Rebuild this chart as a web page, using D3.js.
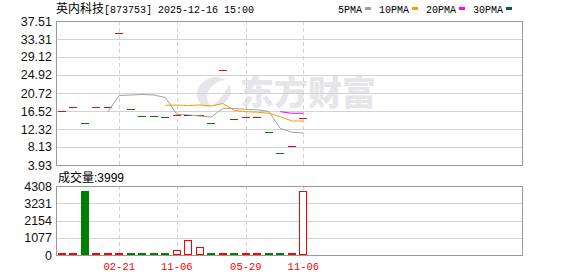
<!DOCTYPE html>
<html>
<head>
<meta charset="utf-8">
<script src="https://cdn.jsdelivr.net/npm/d3@7/dist/d3.min.js"></script>
<style>
  html, body { margin: 0; padding: 0; background: #fff; }
  svg { display: block; }
</style>
</head>
<body>
<svg id="chart" width="578" height="276"></svg>
<script>
// Daily candles (each session traded at a single price, so open = close).
const closes = [16.50, 17.45, 13.72, 17.45, 17.45, 34.64, 16.92, 15.36, 15.36, 15.12, 15.66,
                15.59, 15.50, 13.65, 26.08, 14.60, 15.05, 15.05, 11.56, 6.66, 8.29, 14.82];
const trend = ["up", "up", "down", "up", "up", "up", "down", "down", "down", "down", "up",
               "flat", "up", "down", "up", "down", "up", "up", "down", "down", "up", "up"];
const volumes = [30, 30, 4000, 30, 30, 30, 30, 30, 30, 30, 290,
                 920, 480, 30, 30, 30, 30, 30, 30, 30, 30, 3999];

// Moving averages (null = not enough history yet).
const ma5 = [null, null, null, null, 16.29, 20.14, 20.25, 20.37, 20.25, 19.67, 15.75,
             15.59, 15.36, 15.12, 17.15, 17.10, 16.92, 16.80, 16.40, 12.44, 11.56, 11.39];
const ma10 = [null, null, null, null, null, null, null, null, null, 17.85, 17.92,
              17.80, 17.92, 17.69, 18.27, 16.64, 16.36, 16.24, 15.99, 15.19, 14.19, 14.19];
const ma20 = [null, null, null, null, null, null, null, null, null, null, null,
              null, null, null, null, null, null, null, null, 16.36, 15.99, 15.99];

const priceTicks = [3.93, 8.13, 12.32, 16.52, 20.72, 24.92, 29.12, 33.31, 37.51];
const volumeTicks = [0, 1077, 2154, 3231, 4308];
const dateTickIndex = [5, 10, 16, 21];
const dateTickLabels = ["02-21", "11-06", "05-29", "11-06"];

const legendNames = ["5PMA", "10PMA", "20PMA", "30PMA"];
const legendColors = ["#a0a0a0", "#f0a000", "#ff00ff", "#006633"];

const TITLE_NAME = "英内科技";
const TITLE_REST = "[873753] 2025-12-16 15:00";
const VOLUME_LABEL = "成交量";

const RED = "#ff0000";
const GREEN = "#008000";
const BORDER = "#999999";
const GRID = "#d3d3d3";
const SANS = "'Liberation Sans', Arial, sans-serif";
const MONO = "'Liberation Mono', monospace";
const CJK = "'Noto Sans CJK SC', sans-serif";

const svg = d3.select("#chart");
const left = 56, right = 522;
const priceTop = 21, priceBottom = 165;
const volTop = 186, volBottom = 255;

// 40.5 candle slots fit across the panel; only the first 22 are filled.
const x = d3.scaleLinear().domain([-0.5, 40]).range([left, right]);
const yPrice = d3.scaleLinear().domain([3.93, 37.51]).range([priceBottom, priceTop]);
const yVol = d3.scaleLinear().domain([0, 4308]).range([volBottom, volTop]);
const barW = 8;

const colorOf = (t) => (t === "down" ? GREEN : t === "flat" ? "#000" : RED);
const crisp = (v) => Math.round(v) + 0.5;

// ---- header ----
const title = svg.append("text").attr("x", 56).attr("y", 13).attr("fill", "#000");
title.append("tspan").attr("font-family", CJK).attr("font-size", 12).text(TITLE_NAME);
title.append("tspan").attr("font-family", MONO).attr("font-size", 10).text(TITLE_REST);

const legend = svg.append("g");
let lx = 338;
legendNames.forEach((name, i) => {
  legend.append("text")
    .attr("x", lx).attr("y", 12.5)
    .attr("font-family", MONO).attr("font-size", 10)
    .attr("fill", "#000")
    .text(name);
  const w = name.length * 6;
  legend.append("rect")
    .attr("x", lx + w + 3).attr("y", 7)
    .attr("width", 6).attr("height", 3)
    .attr("fill", legendColors[i]);
  lx += w + 17;
});

// ---- watermark ----
const wm = svg.append("g").attr("fill", "#e6e6ea");
wm.append("path")
  .attr("d", "M214,77 C202,79 196,88 197,97 C198,104 204,108 211,107 C206,101 206,92 212,86 C216,82 222,80 226,80 C222,78 218,77 214,77 Z M229,84 C226,92 220,100 213,105 C220,106 228,102 230,95 C231,91 231,87 229,84 Z");
wm.append("text")
  .attr("x", 240).attr("y", 105)
  .attr("font-family", CJK).attr("font-weight", 900)
  .attr("font-size", 34)
  .text("东方财富");

// ---- grids ----
function panelGrid(g, y, ticks, top, bottom) {
  g.selectAll("line.h")
    .data(ticks.slice(1, -1))
    .join("line")
    .attr("x1", left).attr("x2", right)
    .attr("y1", (d) => crisp(y(d))).attr("y2", (d) => crisp(y(d)))
    .attr("stroke", GRID);
  g.selectAll("line.v")
    .data(dateTickIndex)
    .join("line")
    .attr("x1", (d) => crisp(x(d))).attr("x2", (d) => crisp(x(d)))
    .attr("y1", top).attr("y2", bottom)
    .attr("stroke", GRID)
    .attr("stroke-dasharray", "4,3");
  g.append("rect")
    .attr("x", left + 0.5).attr("y", top + 0.5)
    .attr("width", right - left).attr("height", bottom - top)
    .attr("fill", "none")
    .attr("stroke", BORDER);
}
panelGrid(svg.append("g"), yPrice, priceTicks, priceTop, priceBottom);
panelGrid(svg.append("g"), yVol, volumeTicks, volTop, volBottom);

// ---- axis labels ----
svg.append("g").selectAll("text")
  .data(priceTicks)
  .join("text")
  .attr("x", 52).attr("y", (d) => yPrice(d))
  .attr("dy", "0.36em")
  .attr("text-anchor", "end")
  .attr("font-family", SANS).attr("font-size", 12.5)
  .attr("fill", "#111")
  .text((d) => d.toFixed(2));

svg.append("g").selectAll("text")
  .data(volumeTicks)
  .join("text")
  .attr("x", 52).attr("y", (d) => yVol(d))
  .attr("dy", "0.36em")
  .attr("text-anchor", "end")
  .attr("font-family", SANS).attr("font-size", 12.5)
  .attr("fill", "#111")
  .text((d) => d);

svg.append("g").selectAll("text")
  .data(dateTickIndex)
  .join("text")
  .attr("x", (d) => x(d)).attr("y", 270)
  .attr("text-anchor", "middle")
  .attr("font-family", MONO).attr("font-size", 10.5)
  .attr("fill", RED)
  .text((d, i) => dateTickLabels[i]);

const vl = svg.append("text").attr("x", 58).attr("y", 182).attr("fill", "#000");
vl.append("tspan").attr("font-family", CJK).attr("font-size", 12).text(VOLUME_LABEL);
vl.append("tspan").attr("font-family", SANS).attr("font-size", 12).text(":" + volumes[volumes.length - 1]);

// ---- candles ----
svg.append("g").selectAll("rect")
  .data(closes)
  .join("rect")
  .attr("x", (d, i) => Math.round(x(i) - barW / 2))
  .attr("y", (d) => Math.round(yPrice(d)))
  .attr("width", barW)
  .attr("height", 1)
  .attr("fill", (d, i) => colorOf(trend[i]));

// ---- moving averages ----
const line = d3.line()
  .defined((d) => d != null)
  .x((d, i) => x(i))
  .y((d) => yPrice(d));
[ma5, ma10, ma20].forEach((series, i) => {
  svg.append("path")
    .datum(series)
    .attr("d", line)
    .attr("fill", "none")
    .attr("stroke", legendColors[i])
    .attr("stroke-width", 1);
});

// ---- volume bars ----
// rising days: hollow red boxes; falling days: solid green. Tiny volumes collapse to a dash.
svg.append("g").selectAll("rect")
  .data(volumes)
  .join("rect")
  .each(function (d, i) {
    const up = trend[i] !== "down";
    const top = Math.round(yVol(d));
    const r = d3.select(this)
      .attr("x", Math.round(x(i) - barW / 2));
    if (volBottom - top < 3) {
      r.attr("y", volBottom - 2)
        .attr("width", barW)
        .attr("height", 2)
        .attr("fill", up ? RED : GREEN);
    } else if (up) {
      r.attr("x", Math.round(x(i) - barW / 2) + 0.5)
        .attr("y", top + 0.5)
        .attr("width", barW - 1)
        .attr("height", volBottom - top - 1)
        .attr("fill", "#fff")
        .attr("stroke", RED);
    } else {
      r.attr("y", top)
        .attr("width", barW)
        .attr("height", volBottom - top)
        .attr("fill", GREEN);
    }
  });
</script>
</body>
</html>
